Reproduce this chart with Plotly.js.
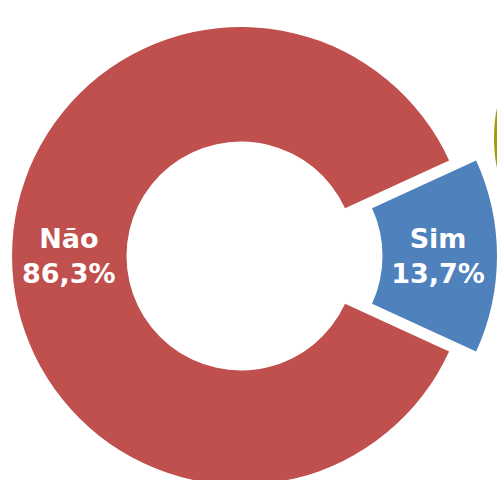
<!DOCTYPE html>
<html>
<head>
<meta charset="utf-8">
<script src="https://cdn.plot.ly/plotly-3.0.1.min.js"></script>
<style>
html,body{margin:0;padding:0;width:497px;height:480px;overflow:hidden;background:#fff;}
#chart{position:absolute;left:-15px;top:0px;width:512px;height:512px;}
</style>
</head>
<body>
<div id="chart"></div>
<script>
var labels = ["Sim", "Não"];
var values = [13.7, 86.3];
var colors = ["#4F81BD", "#C0504D"];
var pulls = [0.118, 0];

var W = 512, H = 512;
var HOLE = 0.5;
var ROT = 90 - (values[0] / (values[0] + values[1])) * 180; // centre "Sim" at 3 o'clock

// Label for the large slice is placed at its mid-angle on the ring (computed from the data)
var total = values.reduce(function(a, b){ return a + b; }, 0);
var startDeg = ROT + values[0] / total * 360;           // clockwise from 12 o'clock
var midDeg = startDeg + values[1] / total * 180;
var rPx = Math.min(W, H) / (2 * (1 + Math.max.apply(null, pulls)));
var rMid = rPx * (1 + HOLE) / 2;
var th = midDeg * Math.PI / 180;
var annX = 0.5 + rMid * Math.sin(th) / W;
var annY = 0.5 + rMid * Math.cos(th) / H;
var pctText = function(v){ return (v / total * 100).toFixed(1).replace(".", ",") + "%"; };

var trace = {
  type: "pie",
  labels: labels,
  values: values,
  sort: false,
  direction: "clockwise",
  rotation: ROT,
  hole: HOLE,
  pull: pulls,
  marker: {colors: colors, line: {width: 0}},
  texttemplate: ["<b>%{label}<br>%{percent:.1%}</b>", ""],
  textposition: "inside",
  insidetextorientation: "horizontal",
  textfont: {family: "DejaVu Sans", size: 27, color: "#ffffff"},
  hoverinfo: "none",
  showlegend: false,
  domain: {x: [0, 1], y: [0, 1]}
};

function px(x){ return (x + 15) / W; }
function py(y){ return 1 - y / H; }

var layout = {
  width: W, height: H,
  margin: {l: 0, r: 0, t: 0, b: 0, pad: 0},
  paper_bgcolor: "#ffffff",
  separators: ",.",
  showlegend: false,
  shapes: [{
    type: "circle", xref: "paper", yref: "paper", layer: "below",
    x0: px(494), x1: px(520), y0: py(185), y1: py(91),
    fillcolor: "#A09C0C", line: {width: 0}
  }],
  annotations: [{
    xref: "paper", yref: "paper", x: annX, y: annY,
    xanchor: "center", yanchor: "middle", showarrow: false,
    text: "<b>" + labels[1] + "<br>" + pctText(values[1]) + "</b>",
    font: {family: "DejaVu Sans", size: 27, color: "#ffffff"}
  }]
};

Plotly.newPlot("chart", [trace], layout, {staticPlot: true, displayModeBar: false});
</script>
</body>
</html>
